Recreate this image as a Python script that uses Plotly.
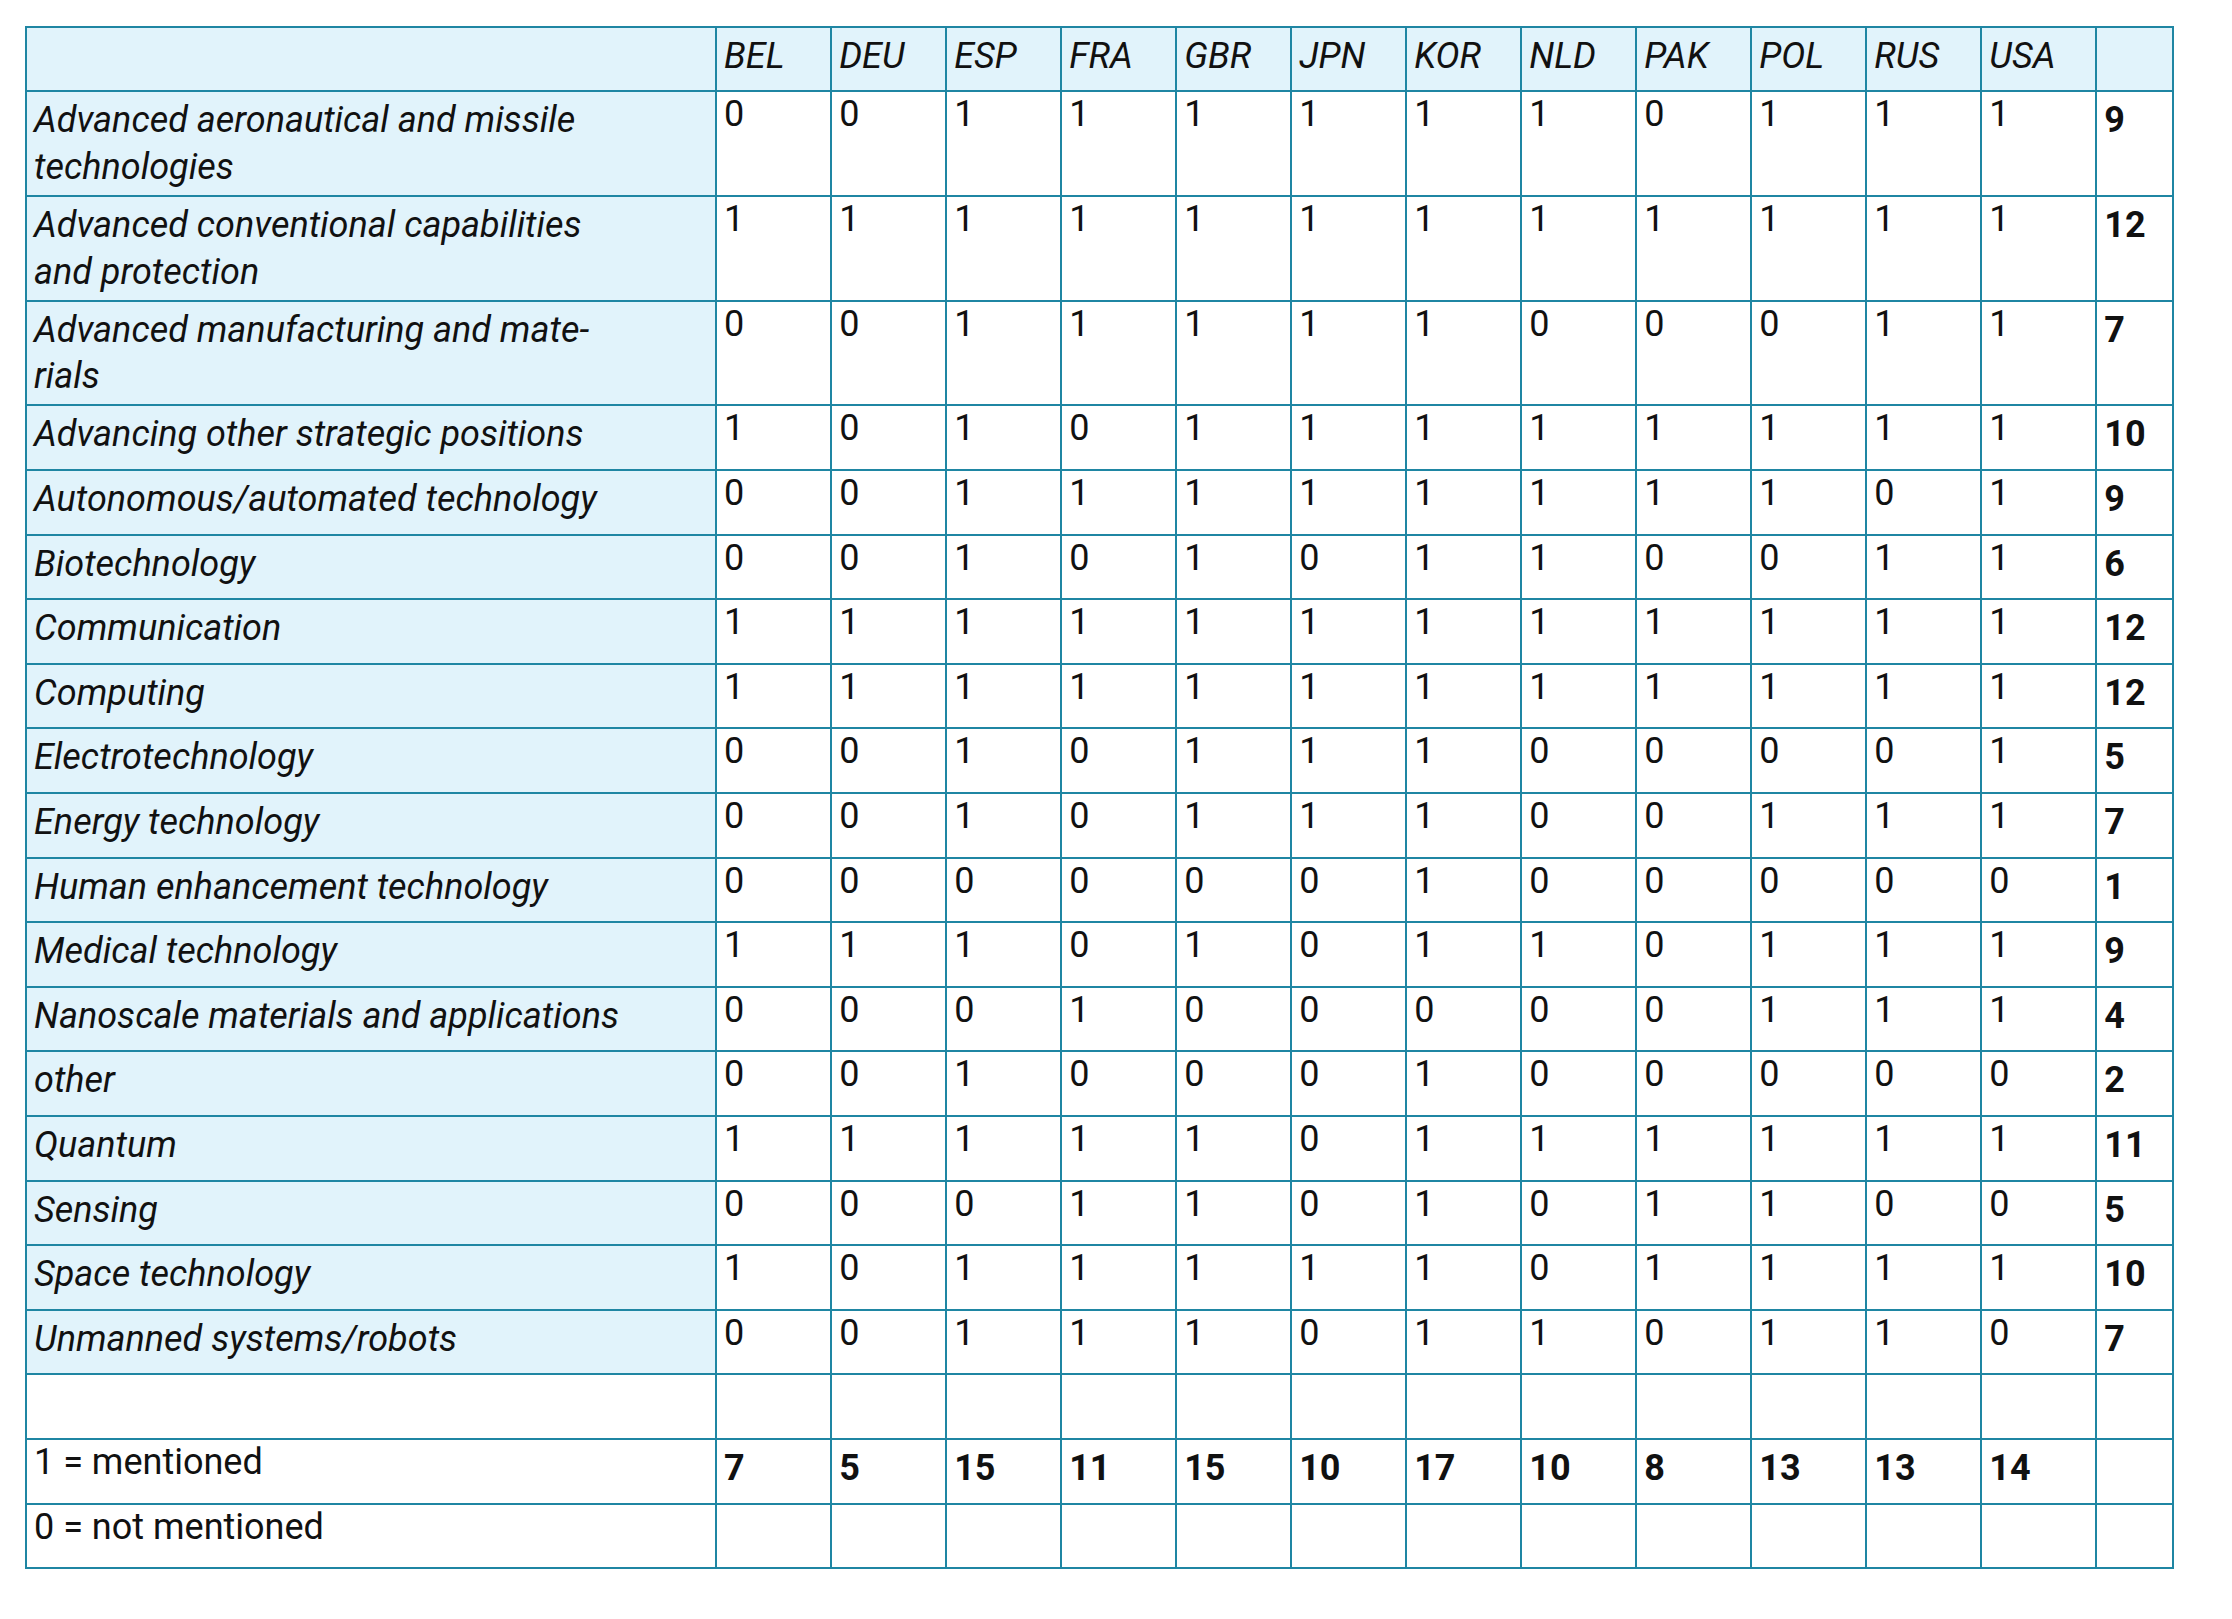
import plotly.graph_objects as go

countries = ["BEL","DEU","ESP","FRA","GBR","JPN","KOR","NLD","PAK","POL","RUS","USA"]
techs = ["Advanced aeronautical and missile<br>technologies",
         "Advanced conventional capabilities<br>and protection",
         "Advanced manufacturing and mate-<br>rials",
         "Advancing other strategic positions",
         "Autonomous/automated technology",
         "Biotechnology","Communication","Computing","Electrotechnology",
         "Energy technology","Human enhancement technology","Medical technology",
         "Nanoscale materials and applications","other","Quantum","Sensing",
         "Space technology","Unmanned systems/robots"]
values = [
 [0,0,1,1,1,1,1,1,0,1,1,1],
 [1,1,1,1,1,1,1,1,1,1,1,1],
 [0,0,1,1,1,1,1,0,0,0,1,1],
 [1,0,1,0,1,1,1,1,1,1,1,1],
 [0,0,1,1,1,1,1,1,1,1,0,1],
 [0,0,1,0,1,0,1,1,0,0,1,1],
 [1,1,1,1,1,1,1,1,1,1,1,1],
 [1,1,1,1,1,1,1,1,1,1,1,1],
 [0,0,1,0,1,1,1,0,0,0,0,1],
 [0,0,1,0,1,1,1,0,0,1,1,1],
 [0,0,0,0,0,0,1,0,0,0,0,0],
 [1,1,1,0,1,0,1,1,0,1,1,1],
 [0,0,0,1,0,0,0,0,0,1,1,1],
 [0,0,1,0,0,0,1,0,0,0,0,0],
 [1,1,1,1,1,0,1,1,1,1,1,1],
 [0,0,0,1,1,0,1,0,1,1,0,0],
 [1,0,1,1,1,1,1,0,1,1,1,1],
 [0,0,1,1,1,0,1,1,0,1,1,0],
]
row_totals = [9,12,7,10,9,6,12,12,5,7,1,9,4,2,11,5,10,7]
col_totals = [7,5,15,11,15,10,17,10,8,13,13,14]
legend_labels = ["1 = mentioned","0 = not mentioned"]

LB = "#e1f3fb"
LINE = "#1f86a3"
n = len(techs)

col0 = ["<i>%s</i>" % t for t in techs] + ["", legend_labels[0], legend_labels[1]]
cols = [col0]
for j in range(len(countries)):
    cols.append([str(values[i][j]) for i in range(n)] + ["", "<b>%d</b>" % col_totals[j], ""])
cols.append(["<b>%d</b>" % v for v in row_totals] + ["", "", ""])

fills = [[LB]*n + ["white"]*3] + [["white"]*(n+3) for _ in range(len(countries)+1)]

fig = go.Figure(go.Table(
    columnwidth=[693] + [115.5]*12 + [77],
    header=dict(values=[""] + ["<i>%s</i>" % c for c in countries] + [""],
                fill_color=LB, line=dict(color=LINE, width=2), align="left",
                height=64, font=dict(family="Roboto", size=36, color="#111")),
    cells=dict(values=cols, fill=dict(color=fills), line=dict(color=LINE, width=2),
               align="left", height=64.6,
               font=dict(family="Roboto", size=36, color="#111")),
))
fig.update_layout(width=2232, height=1619, margin=dict(l=18, r=67, t=19, b=0),
                  paper_bgcolor="white")
fig.write_html("out.html")
